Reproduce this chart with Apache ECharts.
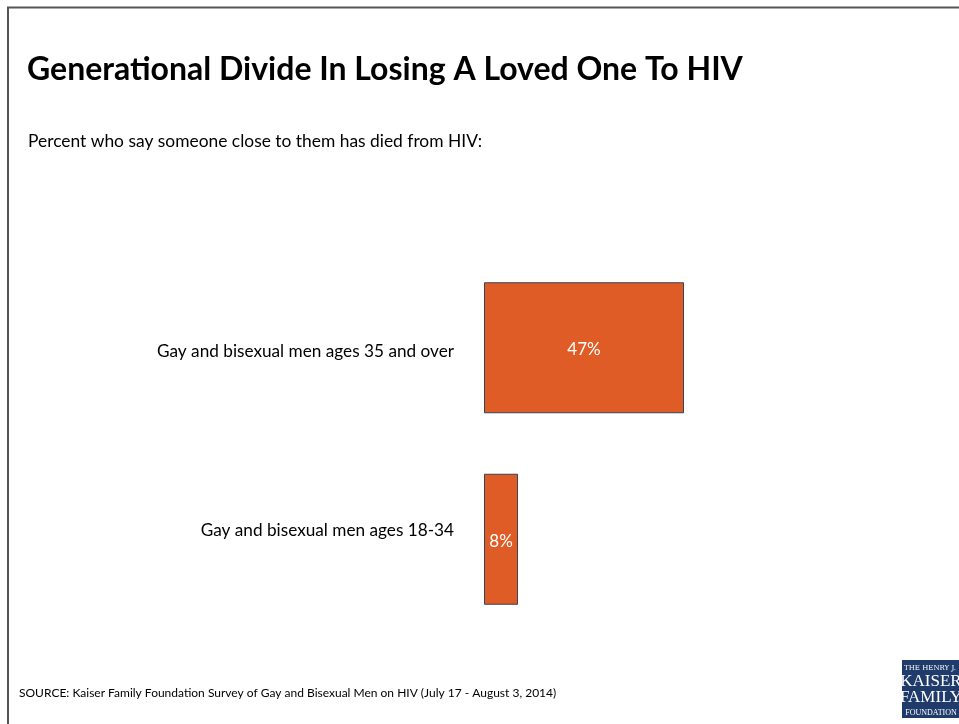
<!DOCTYPE html>
<html><head><meta charset="utf-8">
<script src="https://cdn.jsdelivr.net/npm/echarts@6/dist/echarts.min.js"></script>
<style>html,body{margin:0;padding:0;background:#fff}#c{width:959px;height:724px}</style>
</head><body><div id="c"></div>
<script>
const titleText = 'Generational Divide In Losing A Loved One To HIV';
const subtitleText = 'Percent who say someone close to them has died from HIV:';
const sourceText = 'SOURCE: Kaiser Family Foundation Survey of Gay and Bisexual Men on HIV (July 17 - August 3, 2014)';
const categories = ['Gay and bisexual men ages 35 and over', 'Gay and bisexual men ages 18-34'];
const values = [47, 8];
const logoLines = ['THE HENRY J.', 'KAISER', 'FAMILY', 'FOUNDATION'];

const chart = echarts.init(document.getElementById('c'));
const font = 'Lato, "Open Sans", sans-serif';
chart.setOption({
  backgroundColor: '#fff',
  animation: false,
  title: [
    {text: titleText, left: 27, top: 54, padding: 0, textStyle: {fontFamily: font, fontWeight: 'bold', fontSize: 32, color: '#000'}},
    {text: subtitleText, left: 28, top: 133, padding: 0, textStyle: {fontFamily: font, fontWeight: 'normal', fontSize: 17.4, color: '#000'}},
    {text: sourceText, left: 19, top: 687, padding: 0, textStyle: {fontFamily: font, fontWeight: 'normal', fontSize: 12, color: '#000'}}
  ],
  grid: {left: 484, top: 252, width: 425.5, height: 383},
  xAxis: {type: 'value', min: 0, max: 100, show: false},
  yAxis: {
    type: 'category', data: categories, inverse: true,
    axisLine: {show: false}, axisTick: {show: false},
    axisLabel: {
      margin: 30, fontFamily: font, fontSize: 17.2, color: '#000',
      formatter: (v, i) => i === 0 ? '{a|' + v + '}' : '{b|' + v + '}',
      rich: {
        a: {fontFamily: font, fontSize: 17.2, color: '#000', padding: [7, 0, 0, 0]},
        b: {fontFamily: font, fontSize: 17.2, color: '#000', padding: [0, 0, 18, 0]}
      }
    }
  },
  series: [{
    type: 'bar', data: values, barWidth: 131,
    itemStyle: {color: '#E05C27', borderColor: '#3A4256', borderWidth: 1},
    label: {show: true, position: 'inside', offset: [0, 2], formatter: '{c}%', color: '#fff', fontFamily: font, fontSize: 17}
  }],
  graphic: [
    {type: 'polyline', shape: {points: [[8, 724], [8, 7.5], [959, 7.5]]}, style: {stroke: '#555', lineWidth: 2, fill: null}},
    {type: 'rect', shape: {x: 902, y: 660, width: 57, height: 58}, style: {fill: '#1F3B6B'}},
    {type: 'text', x: 930, y: 668, style: {text: logoLines[0], fill: '#fff', font: '7px "DejaVu Serif", serif', align: 'center', verticalAlign: 'middle'}},
    {type: 'text', x: 931, y: 682, style: {text: logoLines[1], fill: '#fff', font: '17px "Liberation Serif", serif', align: 'center', verticalAlign: 'middle'}},
    {type: 'text', x: 931, y: 698, style: {text: logoLines[2], fill: '#fff', font: '17px "Liberation Serif", serif', align: 'center', verticalAlign: 'middle'}},
    {type: 'text', x: 931, y: 713, style: {text: logoLines[3], fill: '#fff', font: '8px "Liberation Serif", serif', align: 'center', verticalAlign: 'middle'}}
  ]
});
</script></body></html>
